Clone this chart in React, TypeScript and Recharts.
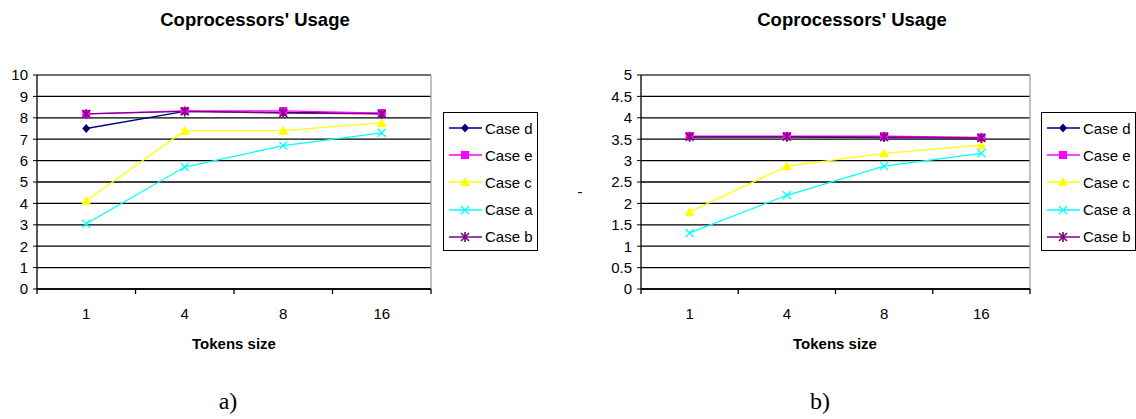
import { LineChart, Line, XAxis, YAxis, CartesianGrid, Legend, ReferenceLine } from 'recharts';

const categories = ['1', '4', '8', '16'];
const seriesNames = ['Case d', 'Case e', 'Case c', 'Case a', 'Case b'];
const seriesColors = ['#000080', '#FF00FF', '#FFFF00', '#00FFFF', '#800080'];
const seriesShapes = ['diamond', 'square', 'triangle', 'cross', 'star'];

// chart a)
const caseDLeft = [7.5, 8.3, 8.25, 8.2];
const caseELeft = [8.18, 8.32, 8.32, 8.22];
const caseCLeft = [4.12, 7.4, 7.4, 7.76];
const caseALeft = [3.05, 5.7, 6.7, 7.3];
const caseBLeft = [8.18, 8.3, 8.22, 8.18];
const leftYTicks = [0, 1, 2, 3, 4, 5, 6, 7, 8, 9, 10];

// chart b)
const caseDRight = [3.55, 3.55, 3.54, 3.53];
const caseERight = [3.57, 3.57, 3.57, 3.54];
const caseCRight = [1.8, 2.87, 3.17, 3.36];
const caseARight = [1.31, 2.19, 2.87, 3.17];
const caseBRight = [3.56, 3.56, 3.55, 3.53];
const rightYTicks = [0, 0.5, 1, 1.5, 2, 2.5, 3, 3.5, 4, 4.5, 5];

const xTicks = [0, 0.5, 1, 1.5, 2, 2.5, 3, 3.5, 4];

const FONT = "Arial, 'Liberation Sans', sans-serif";

function buildRows(series: number[][]) {
  return categories.map((c, i) => {
    const row: any = { x: i + 0.5, label: c };
    seriesNames.forEach((n, k) => {
      row[n] = series[k][i];
    });
    return row;
  });
}

function Marker({ cx, cy, shape, color }: any) {
  switch (shape) {
    case 'diamond':
      return <polygon points={`${cx},${cy - 4.5} ${cx + 4},${cy} ${cx},${cy + 4.5} ${cx - 4},${cy}`} fill={color} />;
    case 'square':
      return <rect x={cx - 4} y={cy - 4} width={8} height={8} fill={color} />;
    case 'triangle':
      return <polygon points={`${cx},${cy - 5} ${cx + 5},${cy + 4} ${cx - 5},${cy + 4}`} fill={color} />;
    case 'cross':
      return (
        <path
          d={`M${cx - 4},${cy - 4}L${cx + 4},${cy + 4}M${cx - 4},${cy + 4}L${cx + 4},${cy - 4}`}
          stroke={color}
          strokeWidth={1.3}
          fill="none"
        />
      );
    default:
      return (
        <path
          d={`M${cx - 4},${cy - 4}L${cx + 4},${cy + 4}M${cx - 4},${cy + 4}L${cx + 4},${cy - 4}M${cx},${cy - 5}L${cx},${cy + 5}`}
          stroke={color}
          strokeWidth={1.6}
          fill="none"
        />
      );
  }
}

function XTick({ x, y, payload }: any) {
  const v = payload.value;
  if (Number.isInteger(v)) {
    return <line x1={x} x2={x} y1={y - 5} y2={y} stroke="#000" strokeWidth={1.3} />;
  }
  return (
    <text x={x} y={y + 25} textAnchor="middle" fontSize={15} fontFamily={FONT} fill="#000">
      {categories[Math.floor(v)]}
    </text>
  );
}

function LegendBox() {
  return (
    <div
      style={{
        width: 95,
        height: 139,
        border: '1.5px solid #000',
        boxSizing: 'border-box',
        background: '#fff',
        position: 'relative',
      }}
    >
      {seriesNames.map((n, k) => (
        <div
          key={n}
          style={{
            position: 'absolute',
            left: 0,
            top: 5 + k * 27.2,
            height: 20,
            display: 'flex',
            alignItems: 'center',
          }}
        >
          <svg width={41} height={20} style={{ display: 'block' }}>
            <line x1={5} x2={38} y1={10} y2={10} stroke={seriesColors[k]} strokeWidth={1.5} />
            <Marker cx={21} cy={10} shape={seriesShapes[k]} color={seriesColors[k]} />
          </svg>
          <span style={{ fontSize: 15, fontFamily: FONT, color: '#000', whiteSpace: 'nowrap' }}>{n}</span>
        </div>
      ))}
    </div>
  );
}

function Panel({ left, width, series, yTicks, yAxisWidth, marginRight, legendLeft }: any) {
  const rows = buildRows(series);
  const yMax = yTicks[yTicks.length - 1];
  return (
    <div style={{ position: 'absolute', left, top: 0 }}>
      <LineChart
        width={width}
        height={419}
        data={rows}
        margin={{ top: 75, right: marginRight, bottom: 100, left: 0 }}
      >
        <CartesianGrid vertical={false} stroke="#000" strokeWidth={1.3} />
        <XAxis
          dataKey="x"
          type="number"
          domain={[0, 4]}
          ticks={xTicks}
          interval={0}
          height={30}
          tickLine={false}
          tickSize={5}
          tickMargin={0}
          tick={<XTick />}
          axisLine={{ stroke: '#000', strokeWidth: 1.3 }}
        />
        <YAxis
          type="number"
          domain={[0, yMax]}
          ticks={yTicks}
          interval={0}
          width={yAxisWidth}
          tickSize={4}
          tickMargin={5}
          tick={{ fontSize: 15, fontFamily: FONT, fill: '#000' }}
          tickLine={{ stroke: '#000' }}
          axisLine={{ stroke: '#000', strokeWidth: 1.3 }}
        />
        <ReferenceLine y={yMax} stroke="#808080" strokeWidth={1.3} />
        <ReferenceLine x={4} stroke="#a0a0a0" strokeWidth={1.3} />
        <Legend
          layout="vertical"
          align="center"
          verticalAlign="middle"
          content={<LegendBox />}
          wrapperStyle={{ left: legendLeft, top: 112, width: 95, height: 139 }}
        />
        {seriesNames.map((n, k) => (
          <Line
            key={n}
            dataKey={n}
            stroke={seriesColors[k]}
            strokeWidth={1.3}
            isAnimationActive={false}
            dot={(p: any) => (
              <Marker key={`${n}-${p.index}`} cx={p.cx} cy={p.cy} shape={seriesShapes[k]} color={seriesColors[k]} />
            )}
            activeDot={false}
          />
        ))}
      </LineChart>
    </div>
  );
}

export default function App() {
  return (
    <div style={{ position: 'absolute', left: 0, top: 0, width: 1136, height: 419, background: '#fff' }}>
      <Panel
        left={0}
        width={560}
        series={[caseDLeft, caseELeft, caseCLeft, caseALeft, caseBLeft]}
        yTicks={leftYTicks}
        yAxisWidth={37}
        marginRight={129}
        legendLeft={443}
      />
      <Panel
        left={560}
        width={576}
        series={[caseDRight, caseERight, caseCRight, caseARight, caseBRight]}
        yTicks={rightYTicks}
        yAxisWidth={81}
        marginRight={106}
        legendLeft={481}
      />
      <svg
        width={1136}
        height={419}
        style={{ position: 'absolute', left: 0, top: 0, pointerEvents: 'none' }}
      >
        <text x={255} y={26} textAnchor="middle" fontSize={18.5} fontWeight="bold" fontFamily={FONT}>
          Coprocessors' Usage
        </text>
        <text x={852} y={26} textAnchor="middle" fontSize={18.5} fontWeight="bold" fontFamily={FONT}>
          Coprocessors' Usage
        </text>
        <text x={234} y={349} textAnchor="middle" fontSize={15} fontWeight="bold" fontFamily={FONT}>
          Tokens size
        </text>
        <text x={835} y={349} textAnchor="middle" fontSize={15} fontWeight="bold" fontFamily={FONT}>
          Tokens size
        </text>
        <text x={580} y={197} textAnchor="middle" fontSize={15} fontFamily={FONT}>
          -
        </text>
        <text x={228} y={409} textAnchor="middle" fontSize={24} fontFamily="'Times New Roman', 'Liberation Serif', serif">
          a)
        </text>
        <text x={820} y={409} textAnchor="middle" fontSize={24} fontFamily="'Times New Roman', 'Liberation Serif', serif">
          b)
        </text>
      </svg>
    </div>
  );
}
